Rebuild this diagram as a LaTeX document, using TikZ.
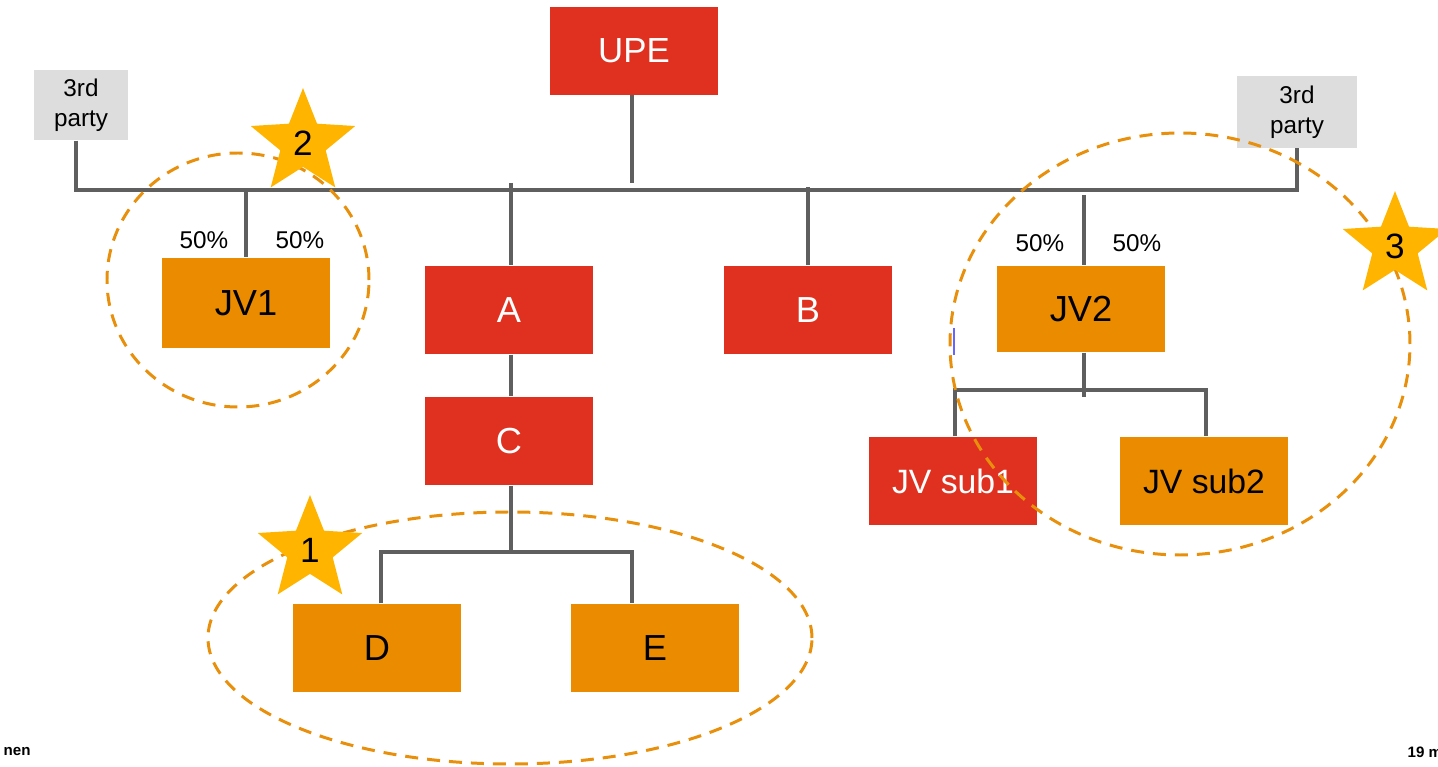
\documentclass[tikz,border=0pt]{standalone}
\usepackage{fontspec}
\setmainfont{Liberation Sans}
\usetikzlibrary{shapes.geometric}

\definecolor{entred}{HTML}{E03120}
\definecolor{entorange}{HTML}{EB8C00}
\definecolor{partygray}{HTML}{DDDDDD}
\definecolor{linkgray}{HTML}{5F5F5F}
\definecolor{stargold}{HTML}{FFB400}
\definecolor{ringorange}{HTML}{E8900C}

\tikzset{
  entity/.style={rectangle, minimum width=1.68cm, minimum height=0.88cm, inner sep=0pt, font=\fontsize{10.3}{12}\selectfont},
  redbox/.style={entity, fill=entred, text=white},
  jvbox/.style={entity, fill=entorange, text=black},
  partybox/.style={rectangle, fill=partygray, inner sep=0pt, align=center, font=\fontsize{6.9}{8.6}\selectfont},
  link/.style={draw=linkgray, line width=1.15pt},
  ring/.style={draw=ringorange, line width=0.85pt, dash pattern=on 0.13cm off 0.09cm},
  badge/.style={star, star points=5, star point ratio=2.3, fill=stargold, inner sep=1.2pt,
    text width=5.6pt, text height=7.2pt, text depth=0pt, align=center, minimum size=1.08cm, font=\fontsize{10}{12}\selectfont},
  share/.style={font=\fontsize{6.9}{8}\selectfont},
  footer/.style={anchor=west, inner sep=0pt, font=\bfseries\fontsize{4.3}{5}\selectfont}
}

\begin{document}
\begin{tikzpicture}[x=0.01cm, y=0.01cm]
        \useasboundingbox (0,0) rectangle (1438,-767);
        % entities
        \node [redbox, minimum height=0.87cm, font=\fontsize{9.9}{12}\selectfont] (upe) at (634,-51) {UPE};
        \node [partybox, minimum width=0.94cm, minimum height=0.70cm] (tpl) at (81,-105) {3rd\\party};
        \node [partybox, minimum width=1.20cm, minimum height=0.71cm] (tpr) at (1297,-112) {3rd\\party};
        \node [jvbox, minimum height=0.90cm] (jv1) at (246,-303) {JV1};
        \node [redbox] (a) at (509,-310) {A};
        \node [redbox] (b) at (808,-310) {B};
        \node [jvbox, minimum height=0.86cm] (jv2) at (1081,-309) {JV2};
        \node [redbox] (c) at (509,-441) {C};
        \node [jvbox] (d) at (377,-648) {D};
        \node [jvbox] (e) at (655,-648) {E};
        \node [redbox, font=\fontsize{9.6}{12}\selectfont] (sub1) at (953,-481) {JV sub1};
        \node [jvbox, font=\fontsize{9.6}{12}\selectfont] (sub2) at (1204,-481) {JV sub2};
        % ownership shares
        \node [share] (s1) at (204,-240) {50\%};
        \node [share] (s2) at (300,-240) {50\%};
        \node [share] (s3) at (1040,-243) {50\%};
        \node [share] (s4) at (1137,-243) {50\%};
        % holding bus
        \coordinate (busL) at (76,-190);
        \coordinate (busR) at (1297,-190);
        \coordinate (upeend) at (632,-183);
        \coordinate (atop) at (511,-183);
        \coordinate (btop) at (808,-187);
        \coordinate (jvtop) at (1084,-195);
        \draw [link] (tpl.south -| busL) -- (busL) -- (busR) -- (tpr.south);
        \draw [link] (upe.south -| upeend) -- (upeend);
        \draw [link] (busL -| jv1.north) -- (jv1.north);
        \draw [link] (atop) -- (a.north -| atop);
        \draw [link] (btop) -- (b.north);
        \draw [link] (jvtop) -- (jv2.north -| jvtop);
        \draw [link] (a.south -| atop) -- (c.north -| atop);
        % C subsidiaries
        \coordinate (cfork) at (511,-552);
        \coordinate (dtap) at (381,-552);
        \coordinate (etap) at (632,-552);
        \draw [link] (c.south -| cfork) -- (cfork);
        \draw [link] (d.north -| dtap) -- (dtap) -- (etap) -- (e.north -| etap);
        % JV2 subsidiaries
        \coordinate (jvfork) at (1084,-397);
        \coordinate (s1tap) at (955,-390);
        \coordinate (s2tap) at (1206,-390);
        \draw [link] (jv2.south -| jvfork) -- (jvfork);
        \draw [link] (sub1.north -| s1tap) -- (s1tap) -- (s2tap) -- (sub2.north -| s2tap);
        \draw [blue!60!white, line width=0.6pt] (954,-328) -- (954,-355);
        % highlighted groups
        \draw [ring] (238,-280) ellipse [x radius=131, y radius=127];
        \draw [ring] (1180,-344) ellipse [x radius=230, y radius=211];
        \draw [ring] (510,-638) ellipse [x radius=302, y radius=126];
        \node [badge] (st2) at (303,-143) {2};
        \node [badge] (st3) at (1395,-246) {3};
        \node [badge] (st1) at (310,-550) {1};
        % footer
        \node [footer] (foot) at (3,-752) {nen};
        \node [footer] (page) at (1407,-752) {19 m};
\end{tikzpicture}
\end{document}
